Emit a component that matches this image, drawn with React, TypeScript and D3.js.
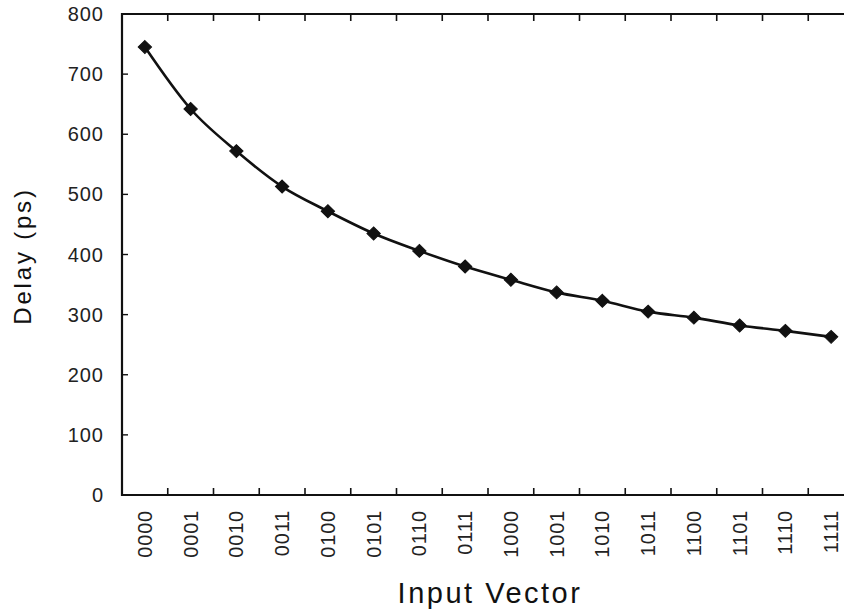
import React, { useRef, useEffect } from "react";
import * as d3 from "d3";

const vectors = [
  "0000", "0001", "0010", "0011", "0100", "0101", "0110", "0111",
  "1000", "1001", "1010", "1011", "1100", "1101", "1110", "1111",
];
const delays = [745, 642, 572, 513, 472, 435, 406, 380, 358, 337, 323, 305, 295, 282, 273, 263];
const yTicks = [0, 100, 200, 300, 400, 500, 600, 700, 800];

const App = () => {
  const svgRef = useRef<SVGSVGElement>(null);

  useEffect(() => {
    const svg = d3.select(svgRef.current);
    svg.selectAll("*").remove();

    const left = 122, top = 14, bottom = 495, right = 854;
    const font = "Liberation Sans, Arial, sans-serif";

    const x = d3.scaleBand().domain(vectors).range([left, right]);
    const y = d3.scaleLinear().domain([0, 800]).range([bottom, top]);

    // frame (right side runs off the page)
    svg.append("path")
      .attr("d", `M${right},${top}H${left}V${bottom}H${right}`)
      .attr("fill", "none")
      .attr("stroke", "#111")
      .attr("stroke-width", 2.2);

    // ticks between categories, inward on top and bottom
    const bounds = vectors.slice(1).map((v) => x(v) as number);
    svg.selectAll(".tb").data(bounds).enter().append("line")
      .attr("x1", (d) => d).attr("x2", (d) => d)
      .attr("y1", bottom).attr("y2", bottom - 7)
      .attr("stroke", "#111").attr("stroke-width", 1.6);
    svg.selectAll(".tt").data(bounds).enter().append("line")
      .attr("x1", (d) => d).attr("x2", (d) => d)
      .attr("y1", top).attr("y2", top + 7)
      .attr("stroke", "#111").attr("stroke-width", 1.6);

    // y ticks
    svg.selectAll(".ty").data(yTicks.slice(1, -1)).enter().append("line")
      .attr("x1", left).attr("x2", left + 6)
      .attr("y1", (d) => y(d)).attr("y2", (d) => y(d))
      .attr("stroke", "#111").attr("stroke-width", 1.4);

    svg.selectAll(".yl").data(yTicks).enter().append("text")
      .attr("x", 104)
      .attr("y", (d) => y(d) + 7)
      .attr("text-anchor", "end")
      .attr("font-family", font)
      .attr("font-size", 20)
      .attr("letter-spacing", 1)
      .attr("fill", "#222")
      .text((d) => d);

    // x labels rotated
    svg.selectAll(".xl").data(vectors).enter().append("text")
      .attr("transform", (d) => `translate(${(x(d) as number) + x.bandwidth() / 2 + 7},510) rotate(-90)`)
      .attr("text-anchor", "end")
      .attr("font-family", font)
      .attr("font-size", 20)
      .attr("letter-spacing", 0.8)
      .attr("fill", "#222")
      .text((d) => d);

    // axis titles
    svg.append("text")
      .attr("transform", "translate(31,256) rotate(-90)")
      .attr("text-anchor", "middle")
      .attr("font-family", font)
      .attr("font-size", 24)
      .attr("letter-spacing", 2.8)
      .attr("fill", "#111")
      .text("Delay (ps)");

    svg.append("text")
      .attr("x", 490).attr("y", 603)
      .attr("text-anchor", "middle")
      .attr("font-family", font)
      .attr("font-size", 29)
      .attr("letter-spacing", 2.5)
      .attr("fill", "#111")
      .text("Input Vector");

    // curve
    const cx = (d: string) => (x(d) as number) + x.bandwidth() / 2;
    const line = d3.line<number>()
      .x((d, i) => cx(vectors[i]))
      .y((d) => y(d))
      .curve(d3.curveMonotoneX);
    svg.append("path")
      .attr("d", line(delays))
      .attr("fill", "none")
      .attr("stroke", "#111")
      .attr("stroke-width", 2.6);

    const diamond = d3.symbol().type(d3.symbolDiamond).size(60);
    svg.selectAll(".pt").data(delays).enter().append("path")
      .attr("d", diamond)
      .attr("transform", (d, i) => `translate(${cx(vectors[i])},${y(d)}) scale(1.6,0.9)`)
      .attr("fill", "#111")
      .attr("stroke", "#111")
      .attr("stroke-width", 0.8);
  }, []);

  return (
    <svg
      ref={svgRef}
      width={844}
      height={613}
      style={{ position: "absolute", left: 0, top: 0, background: "#fff" }}
    />
  );
};

export default App;
